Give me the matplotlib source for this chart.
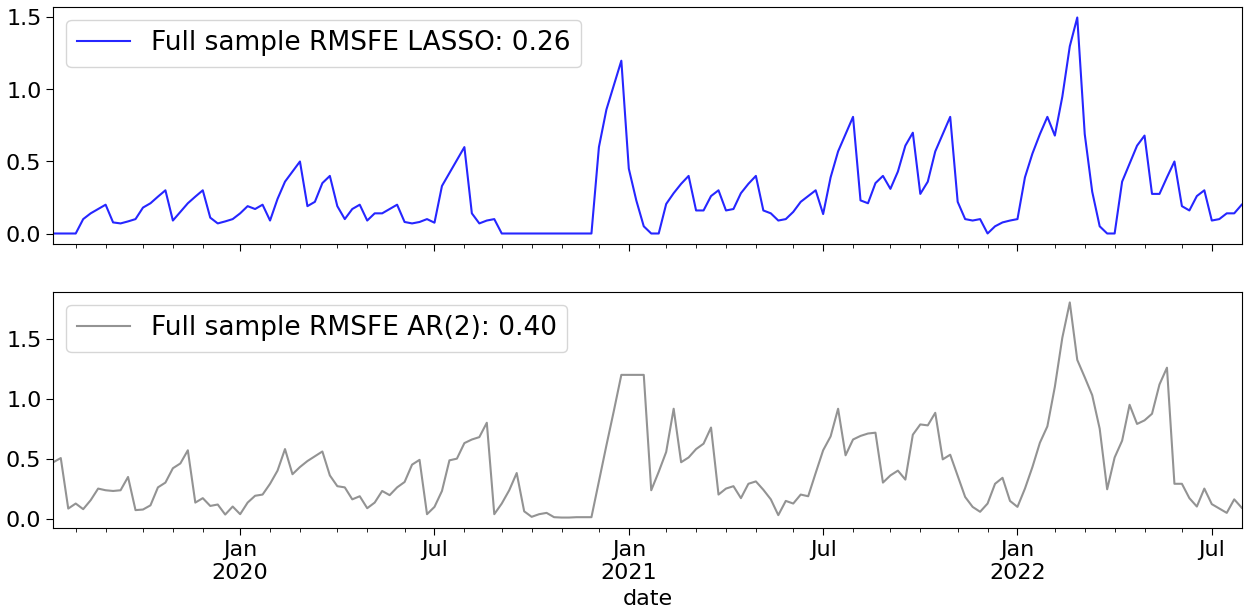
import numpy as np
import pandas as pd
import matplotlib
matplotlib.use("Agg")
import matplotlib.pyplot as plt
import matplotlib.dates as mdates

# ---- data (weekly, W-SUN) ----
start_date = "2019-07-14"
lasso = [0, 0, 0, 0, 0.10, 0.14, 0.17, 0.20, 0.077, 0.07,
         0.084, 0.10, 0.18, 0.21, 0.256, 0.30, 0.09, 0.15, 0.21, 0.256,
         0.30, 0.11, 0.07, 0.084, 0.10, 0.14, 0.19, 0.17, 0.20, 0.09,
         0.24, 0.36, 0.43, 0.50, 0.19, 0.22, 0.35, 0.40, 0.19, 0.10,
         0.17, 0.20, 0.09, 0.14, 0.14, 0.17, 0.20, 0.08, 0.07, 0.08,
         0.10, 0.075, 0.33, 0.42, 0.51, 0.60, 0.14, 0.07, 0.09, 0.10,
         0, 0, 0, 0, 0, 0, 0, 0, 0, 0,
         0, 0, 0, 0.60, 0.86, 1.03, 1.20, 0.45, 0.23, 0.05,
         0, 0, 0.205, 0.28, 0.345, 0.40, 0.16, 0.16, 0.26, 0.30,
         0.16, 0.17, 0.28, 0.345, 0.40, 0.16, 0.14, 0.09, 0.10, 0.15,
         0.22, 0.26, 0.30, 0.135, 0.39, 0.57, 0.69, 0.81, 0.23, 0.21,
         0.35, 0.40, 0.31, 0.43, 0.61, 0.70, 0.275, 0.36, 0.57, 0.69,
         0.81, 0.22, 0.10, 0.09, 0.10, 0.0, 0.05, 0.077, 0.09, 0.10,
         0.39, 0.555, 0.69, 0.81, 0.68, 0.95, 1.30, 1.50, 0.69, 0.29,
         0.05, 0, 0, 0.36, 0.485, 0.61, 0.68, 0.275, 0.275, 0.39,
         0.50, 0.19, 0.16, 0.26, 0.30, 0.09, 0.10, 0.14, 0.14, 0.20]

ar2 = [0.47, 0.505, 0.083, 0.125, 0.078, 0.153, 0.25, 0.236, 0.23, 0.236,
       0.347, 0.07, 0.075, 0.11, 0.26, 0.30, 0.42, 0.46, 0.57, 0.133,
       0.17, 0.105, 0.117, 0.033, 0.10, 0.036, 0.133, 0.19, 0.20, 0.29,
       0.40, 0.58, 0.37, 0.43, 0.48, 0.52, 0.56, 0.36, 0.27, 0.26,
       0.16, 0.186, 0.086, 0.133, 0.23, 0.195, 0.26, 0.305, 0.45, 0.49,
       0.036, 0.097, 0.23, 0.486, 0.50, 0.63, 0.66, 0.68, 0.80, 0.036,
       0.125, 0.236, 0.38, 0.06, 0.014, 0.036, 0.047, 0.011, 0.008, 0.008,
       0.011, 0.011, 0.011, 0.31, 0.61, 0.90, 1.20, 1.20, 1.20, 1.20,
       0.236, 0.39, 0.556, 0.917, 0.47, 0.51, 0.58, 0.625, 0.76, 0.20,
       0.25, 0.27, 0.17, 0.29, 0.31, 0.24, 0.16, 0.028, 0.147, 0.125,
       0.20, 0.186, 0.38, 0.57, 0.686, 0.917, 0.528, 0.66, 0.69, 0.71,
       0.717, 0.30, 0.36, 0.40, 0.325, 0.70, 0.786, 0.778, 0.883, 0.494,
       0.533, 0.356, 0.18, 0.097, 0.056, 0.125, 0.29, 0.34, 0.147, 0.097,
       0.25, 0.43, 0.633, 0.77, 1.10, 1.51, 1.805, 1.325, 1.18, 1.03,
       0.75, 0.244, 0.51, 0.65, 0.95, 0.79, 0.82, 0.875, 1.12, 1.26,
       0.29, 0.29, 0.17, 0.10, 0.25, 0.12, 0.083, 0.047, 0.16, 0.09]

label_lasso = "Full sample RMSFE LASSO: 0.26"
label_ar = "Full sample RMSFE AR(2): 0.40"
xlabel = "date"

n = min(len(lasso), len(ar2))
dates = pd.date_range(start_date, periods=n, freq="W-SUN")

# month ticks at the weekly period containing the 1st of each month
months = pd.date_range("2019-07-01", "2022-08-01", freq="MS")
tick_dates = [m + pd.Timedelta(days=(6 - m.weekday()) % 7) for m in months]
major_ticks, major_labels, minor_ticks = [], [], []
for m, t in zip(months, tick_dates):
    if t < dates[0] or t > dates[-1]:
        continue
    if m.month == 1:
        major_ticks.append(t); major_labels.append(f"Jan\n{m.year}")
    elif m.month == 7:
        major_ticks.append(t); major_labels.append("Jul")
    else:
        minor_ticks.append(t)

W, H = 1244, 608
fig = plt.figure(figsize=(W / 100, H / 100), dpi=100)
left = 53.3 / W
width = (1241.7 - 53.3) / W
ax1 = fig.add_axes([left, 1 - 244.3 / H, width, (244.3 - 6.7) / H])
ax2 = fig.add_axes([left, 1 - 528.3 / H, width, (528.3 - 291.7) / H], sharex=ax1)

ax1.plot(dates[:n], lasso[:n], color="blue", lw=1.5, alpha=0.85, label=label_lasso)
ax2.plot(dates[:n], ar2[:n], color="gray", lw=1.5, alpha=0.85, label=label_ar)

for ax in (ax1, ax2):
    ax.set_xlim(dates[0], dates[-1])
    ax.set_xticks(major_ticks)
    ax.set_xticks(minor_ticks, minor=True)
    ax.set_yticks([0.0, 0.5, 1.0, 1.5])
    ax.tick_params(axis="both", which="major", labelsize=16, length=5)
    ax.tick_params(axis="x", which="minor", length=3)
    ax.legend(loc="upper left", fontsize=19)

ax1.tick_params(axis="x", which="both", labelbottom=False)
ax2.set_xticklabels(major_labels)
ax2.set_xlabel(xlabel, fontsize=16)

fig.savefig("out.png", dpi=100)
